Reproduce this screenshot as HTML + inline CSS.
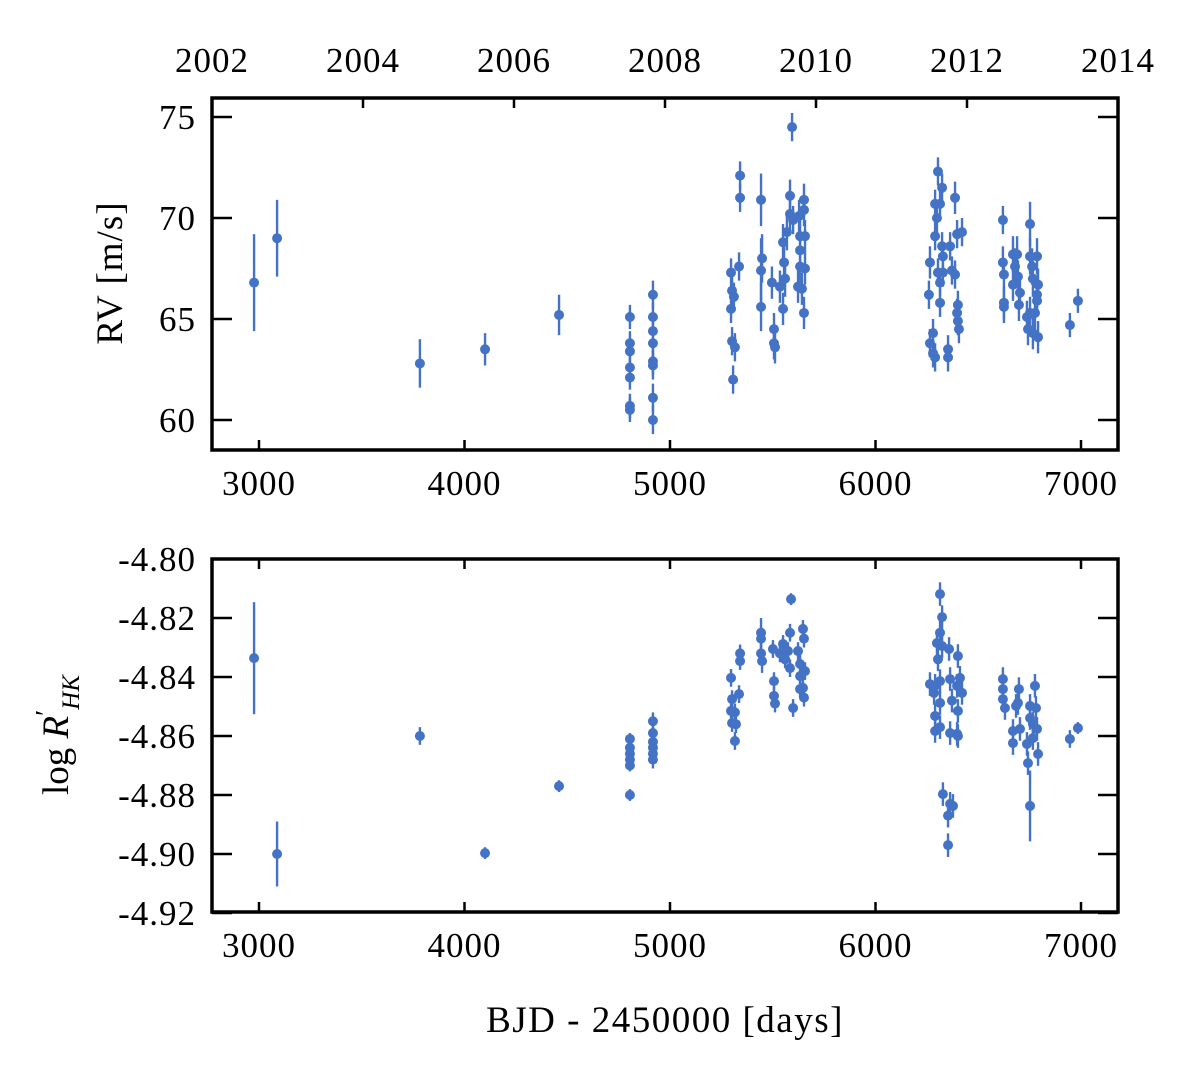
<!DOCTYPE html>
<html><head><meta charset="utf-8"><style>
html,body{margin:0;padding:0;background:#fff}
svg{display:block}
text{font-family:"Liberation Serif",serif;fill:#000}
</style></head><body>
<svg id="chart" width="1200" height="1083" viewBox="0 0 1200 1083" xmlns="http://www.w3.org/2000/svg">
<g id="top"></g>
<g id="bot"></g>
<text x="665" y="1032" font-size="37" text-anchor="middle" letter-spacing="1.5">BJD - 2450000 [days]</text>
<text transform="translate(122,273) rotate(-90)" font-size="37" text-anchor="middle" letter-spacing="1">RV [m/s]</text>
<text transform="translate(68,735) rotate(-90)" font-size="37" text-anchor="middle">log <tspan font-style="italic">R</tspan><tspan font-size="28" dy="-13">′</tspan><tspan font-style="italic" font-size="25" dy="24">HK</tspan></text>
</svg>
<script>
const rvDays=[2976,3088,3783,4100,4460,
4805,4805,4805,4805,4805,4805,4805,
4917,4917,4917,4917,4917,4917,4917,4917,
5341,5341,5336,5297,5302,5311,5297,5302,5316,5307,
5443,5448,5443,5443,5496,5506,5506,5511,5535,5550,5550,5555,5560,5569,5584,5584,5594,5599,
5628,5633,5633,5633,5623,5642,5652,5652,5657,5657,5652,
6304,6324,6290,6314,6387,6299,6290,6421,6397,6324,6363,6265,6328,6372,6314,6387,6260,6314,6401,6397,6265,6280,6280,6290,6353,6353,6401,6406,6304,6328,
6620,6620,6625,6625,6625,6669,6679,6689,6669,6693,6703,6698,6752,6752,6762,6766,6786,6791,6786,6737,6752,6776,6742,6766,6791,6786,6946,6985];
const rvVals=[66.8,69.0,62.8,63.5,65.2,
60.7,60.5,62.1,62.6,63.4,63.8,65.1,
66.2,65.1,64.4,63.8,62.9,62.7,61.1,60.0,
72.1,71.0,67.6,67.3,66.4,66.1,65.5,63.9,63.6,62.0,
70.9,68.0,67.4,65.6,66.8,64.5,63.8,63.6,66.6,65.5,68.8,67.8,67.0,69.3,71.1,70.2,74.5,69.9,
70.1,69.1,68.4,67.6,66.6,66.5,70.9,70.4,69.1,67.5,65.3,
72.3,71.5,70.7,70.7,71.0,70.0,69.1,69.3,69.2,68.6,68.6,67.8,68.1,67.4,66.8,67.2,66.2,65.8,65.7,65.3,63.8,64.3,63.3,63.1,63.5,63.1,64.9,64.5,67.3,67.3,
69.9,67.8,67.2,65.8,65.6,68.2,67.6,68.2,66.7,67.1,66.3,65.7,69.7,68.1,67.6,67.0,68.1,66.7,66.2,65.1,65.3,65.3,64.5,64.3,64.1,65.9,64.7,65.9];
const rvErr=[2.4,1.9,1.2,0.8,1.0,
0.6,0.6,0.6,0.6,0.6,0.6,0.6,
0.7,0.7,0.7,0.7,0.7,0.7,0.7,0.7,
0.7,0.7,0.7,0.7,0.7,0.7,0.7,0.7,0.7,0.7,
1.3,1.2,1.6,1.2,0.8,0.8,0.8,0.8,0.8,0.8,0.9,0.9,0.9,0.9,0.8,0.8,0.7,0.7,
0.8,0.8,0.8,0.8,0.8,0.8,0.8,0.8,0.8,0.8,0.8,
0.7,0.7,0.7,0.7,0.8,0.7,0.7,0.7,0.7,0.7,0.7,0.8,0.7,0.7,0.7,0.7,0.7,0.7,0.7,0.7,0.7,0.7,0.7,0.7,0.7,0.7,0.7,0.7,0.7,0.7,
0.7,0.8,0.8,0.8,0.8,0.9,0.9,0.9,0.8,0.8,0.8,0.8,1.1,0.9,0.9,0.9,0.9,0.8,0.8,0.8,0.8,0.8,0.8,0.8,0.8,0.7,0.6,0.6];
const hkDays=[2976,3088,3783,4100,4460,
4805,4805,4805,4805,4805,4805,
4917,4917,4917,4917,4917,4917,
5297,5302,5336,5297,5316,5302,5321,5316,5341,5341,
5443,5443,5443,5448,5501,5506,5506,5511,5535,5550,5560,5574,5584,5589,5584,5599,5623,5633,5633,5633,5647,5652,5657,5647,5652,
6314,6324,6314,6299,6324,6358,6401,6304,6265,6290,6314,6363,6411,6397,6421,6285,6314,6372,6290,6401,6290,6314,6363,6397,6401,6328,6363,6377,6353,6353,
6620,6620,6620,6630,6698,6684,6693,6669,6669,6703,6776,6752,6781,6752,6766,6786,6737,6766,6791,6742,6752,6946,6985];
const hkVals=[-4.8336,-4.900,-4.860,-4.8997,-4.877,
-4.861,-4.864,-4.866,-4.868,-4.870,-4.880,
-4.855,-4.859,-4.862,-4.864,-4.866,-4.868,
-4.8403,-4.8475,-4.8458,-4.8515,-4.852,-4.8556,-4.856,-4.8617,-4.832,-4.8346,
-4.825,-4.827,-4.832,-4.8346,-4.8305,-4.8414,-4.8464,-4.849,-4.832,-4.8288,-4.834,-4.8312,-4.825,-4.8136,-4.837,-4.8505,-4.8312,-4.8356,-4.8397,-4.8441,-4.8237,-4.827,-4.838,-4.8437,-4.847,
-4.8119,-4.8197,-4.825,-4.8285,-4.8295,-4.8305,-4.8329,-4.834,-4.8424,-4.843,-4.8414,-4.8407,-4.8403,-4.843,-4.8454,-4.8454,-4.8488,-4.848,-4.8532,-4.8515,-4.8583,-4.857,-4.859,-4.8593,-4.86,-4.8797,-4.883,-4.8837,-4.887,-4.897,
-4.8407,-4.8441,-4.8475,-4.8505,-4.8441,-4.8498,-4.8488,-4.8583,-4.8624,-4.8576,-4.843,-4.8498,-4.8505,-4.8539,-4.8559,-4.8576,-4.8627,-4.8607,-4.8661,-4.8692,-4.8837,-4.861,-4.8573];
const hkErr=[0.019,0.011,0.003,0.002,0.002,
0.002,0.002,0.002,0.002,0.002,0.002,
0.003,0.003,0.003,0.003,0.003,0.003,
0.003,0.003,0.003,0.003,0.003,0.003,0.003,0.003,0.003,0.003,
0.005,0.004,0.004,0.004,0.003,0.003,0.003,0.003,0.003,0.003,0.003,0.003,0.003,0.002,0.003,0.003,0.003,0.003,0.003,0.003,0.003,0.003,0.003,0.003,0.003,
0.004,0.004,0.004,0.004,0.004,0.004,0.004,0.004,0.004,0.004,0.004,0.004,0.004,0.004,0.004,0.004,0.004,0.004,0.004,0.004,0.004,0.004,0.004,0.004,0.004,0.004,0.004,0.004,0.004,0.004,
0.004,0.004,0.004,0.004,0.004,0.004,0.004,0.004,0.004,0.004,0.004,0.004,0.004,0.004,0.004,0.004,0.004,0.004,0.004,0.004,0.012,0.003,0.002];
const xTicks=[3000,4000,5000,6000,7000];
const yearTicks=[2002,2004,2006,2008,2010,2012,2014];
const rvTicks=[60,65,70,75];
const hkTicks=[-4.92,-4.90,-4.88,-4.86,-4.84,-4.82,-4.80];

const NS='http://www.w3.org/2000/svg';
const L=212,R=1118;
const xs=d=>259+(d-3000)*0.2055;
const yrX=y=>212+(y-2002)*75.5;
const COL='#4472C4';
function mk(tag,attrs,parent){const e=document.createElementNS(NS,tag);for(const k in attrs)e.setAttribute(k,attrs[k]);parent.appendChild(e);return e;}

function panel(g,T,B,ys,yTicks,fmt,days,vals,errs,topYears,prefix){
  for(let i=0;i<days.length;i++){
    const x=xs(days[i]),y=ys(vals[i]);
    const eb=mk('line',{x1:x,x2:x,y1:ys(vals[i]+errs[i]),y2:ys(vals[i]-errs[i]),stroke:COL,'stroke-width':2.4},g);
    
    
    const c=mk('circle',{cx:x,cy:y,r:5,fill:COL},g);
    
    
  }
  xTicks.forEach(t=>{
    const x=xs(t);
    const tk=mk('path',{d:`M${x},${B}v-10`+(topYears?'':`M${x},${T}v10`),stroke:'#000','stroke-width':2.5},g);
    
    
    const lb=mk('text',{x:x,y:B+45,'font-size':35,'text-anchor':'middle','letter-spacing':1},g);
    lb.textContent=t;
    
    
  });
  if(topYears){
    yearTicks.forEach(yv=>{
      const x=yrX(yv);
      const tk=mk('path',{d:`M${x},${T}v10`,stroke:'#000','stroke-width':2.5},g);
      
      
      const lb=mk('text',{x:x,y:T-26,'font-size':35,'text-anchor':'middle','letter-spacing':1},g);
      lb.textContent=yv;
      
      
    });
  }
  yTicks.forEach(t=>{
    const y=ys(t);
    const tk=mk('path',{d:`M${L},${y}h20M${R},${y}h-20`,stroke:'#000','stroke-width':2.5},g);
    
    
    const lb=mk('text',{x:L-16,y:y+12,'font-size':35,'text-anchor':'end','letter-spacing':1},g);
    lb.textContent=fmt(t);
    
    
  });
  const fr=mk('rect',{x:L,y:T,width:R-L,height:B-T,fill:'none',stroke:'#000','stroke-width':3.5},g);
  
  
}
const rvY=v=>117+(75-v)*20.2;
const hkY=v=>559+(-4.80-v)*2950;
panel(document.getElementById('top'),98,450,rvY,rvTicks,t=>String(t),rvDays,rvVals,rvErr,true,'rv');
panel(document.getElementById('bot'),559,912,hkY,hkTicks,t=>t.toFixed(2),hkDays,hkVals,hkErr,false,'rhk');
</script>
</body></html>
